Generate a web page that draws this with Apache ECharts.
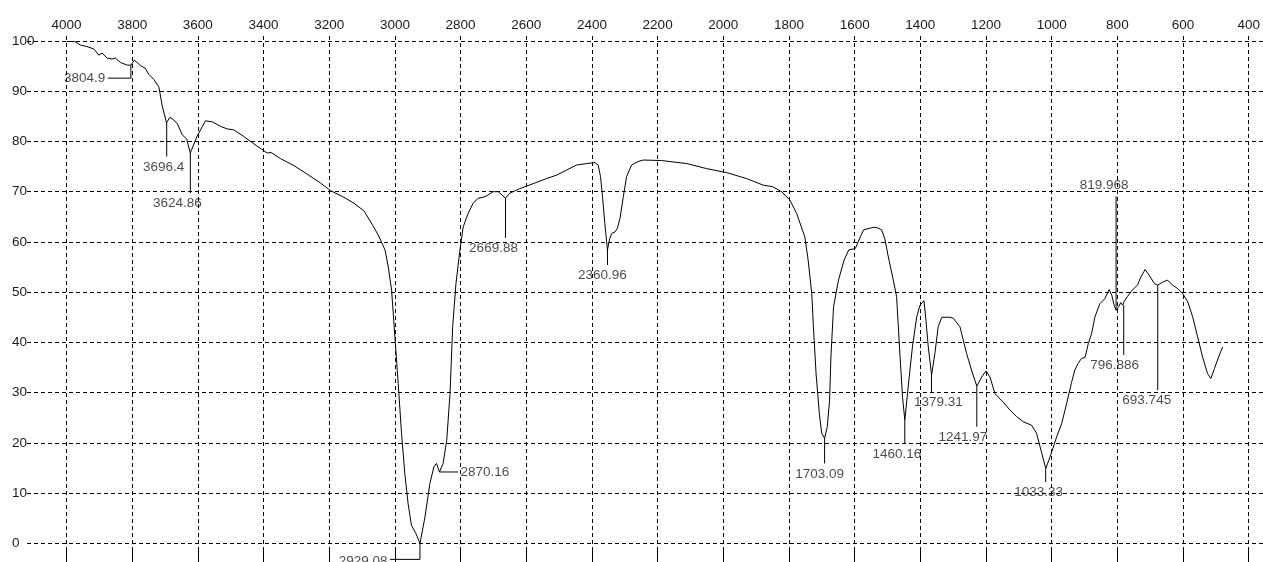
<!DOCTYPE html>
<html><head><meta charset="utf-8">
<script src="https://cdn.jsdelivr.net/npm/echarts@6/dist/echarts.min.js"></script>
<style>html,body{margin:0;padding:0;background:#fff}#c{width:1263px;height:562px}</style>
</head><body><div id="c"></div>
<script>
// ---- data ----
const wavenumbers = [4000,3975,3958,3938,3917,3902,3892,3877,3862,3852,3836,3816,3805,3794,3776,3762,3751,3736,3720,3710,3697,3687,3675,3664,3649,3636,3625,3604,3579,3558,3533,3513,3493,3463,3432,3392,3380,3352,3311,3271,3230,3200,3160,3129,3099,3074,3054,3035,3025,3015,3005,2995,2985,2975,2965,2955,2941,2929,2914,2899,2887,2879,2870,2859,2848,2838,2830,2820,2808,2798,2783,2768,2753,2732,2719,2707,2692,2670,2657,2627,2586,2546,2515,2485,2455,2424,2399,2389,2382,2376,2369,2364,2361,2354,2348,2338,2331,2323,2313,2303,2288,2268,2253,2197,2121,2061,2000,1939,1889,1861,1833,1808,1788,1763,1753,1742,1737,1729,1719,1712,1703,1695,1688,1684,1676,1661,1644,1630,1610,1595,1585,1556,1547,1530,1520,1510,1495,1485,1475,1467,1460,1450,1437,1424,1414,1402,1396,1389,1379,1369,1359,1348,1323,1313,1293,1273,1258,1242,1227,1214,1202,1187,1162,1141,1121,1101,1076,1061,1045,1033,1020,1000,985,971,955,945,935,925,914,904,894,884,869,854,841,833,826,820,812,806,800,796,786,771,755,745,732,720,704,694,679,664,649,633,618,603,588,573,558,543,533,522,507,497];
const transmittance = [99.9,99.9,99.2,98.9,98.4,97.2,97.6,96.6,96.4,96.6,95.7,95.2,95.2,96.2,95.1,94.6,93.4,92.4,90.8,87.1,83.7,84.8,84.3,83.5,81.3,80.5,77.7,81.1,84.1,83.9,83.0,82.5,82.3,81.0,79.5,77.7,77.8,76.6,75.2,73.5,71.7,70.2,68.9,67.7,66.2,63.5,61.2,58.4,55.0,50.4,41.1,31.8,21.9,13.9,7.9,3.6,1.9,0.0,5.2,11.9,15.2,15.9,14.2,15.9,20.5,29.8,43.1,51.7,58.4,63.0,65.7,67.7,68.7,69.0,69.5,70.0,70.0,68.7,69.7,70.6,71.6,72.6,73.3,74.3,75.3,75.6,75.8,75.3,73.0,69.0,63.7,60.4,58.4,60.7,61.7,62.0,62.7,64.7,69.0,73.0,75.3,76.0,76.3,76.2,75.6,74.6,73.8,72.6,71.3,71.0,70.0,68.3,65.7,61.0,56.4,49.7,43.1,33.8,25.8,21.9,20.9,23.2,28.5,37.1,47.1,52.4,56.4,58.4,58.7,61.0,62.4,62.9,62.9,62.4,60.4,57.0,52.4,49.1,37.8,29.1,24.5,31.1,39.1,45.1,47.4,48.3,44.4,39.1,33.5,37.8,43.1,45.0,45.0,44.8,43.1,37.8,34.5,31.3,33.1,34.3,33.1,29.8,28.1,26.5,25.2,24.2,23.5,21.9,17.9,14.9,17.2,21.2,23.8,27.5,32.0,34.5,35.8,36.8,37.0,39.8,41.8,45.1,47.7,48.7,50.5,49.4,47.4,46.4,47.1,47.9,47.4,48.1,49.1,50.4,51.4,53.0,54.5,53.4,51.7,51.4,52.0,52.4,51.4,50.7,49.7,48.1,45.1,41.1,37.1,33.8,32.8,34.8,37.5,39.1];
const xTickValues = [4000,3800,3600,3400,3200,3000,2800,2600,2400,2200,2000,1800,1600,1400,1200,1000,800,600,400];
const yTickValues = [0,10,20,30,40,50,60,70,80,90,100];
const peakWavenumbers = [3804.9,3696.4,3624.86,2929.08,2870.16,2669.88,2360.96,1703.09,1460.16,1379.31,1241.97,1033.33,819.968,796.886,693.745];
const peakLabels = ['3804.9','3696.4','3624.86','2929.08','2870.16','2669.88','2360.96','1703.09','1460.16','1379.31','1241.97','1033.33','819.968','796.886','693.745'];
const peakTransmittance = [95.2,83.7,77.7,0.0,14.2,68.7,58.4,20.9,24.5,33.5,31.3,14.9,46.4,47.4,51.4];
const leaderEndTransmittance = [92.6,77.0,69.7,-3.2,14.2,60.8,55.4,15.9,19.8,30.1,23.2,12.2,69.1,37.5,30.5];
const leaderElbowWavenumber = [3875,null,null,3020,2814,null,null,null,null,null,null,null,null,null,null];
const labelSide = ['left','bottom','bottom','left','right','bottom','bottom','bottom','bottom','bottom','bottom','bottom','top','bottom','bottom'];
// ---- layout only ----
const labelShiftPx = [0,-3,-13,0,0,-12,-5,-5,-8,7,-14,-7,-12,-9,-11];
const labelShiftYPx = [0,0,0,2,0,0,0,0,0,0,0,0,0,0,0];

const FONT = '"Liberation Sans", Arial, sans-serif';
const FS = 13.5;
const TXT = '#1a1a1a';
const dash = [4, 3];
const xMin = Math.min(...xTickValues), xMax = Math.max(...xTickValues);
const xStep = xTickValues[0] - xTickValues[1];
const yMin = Math.min(...yTickValues), yMax = Math.max(...yTickValues);
const yStep = yTickValues[1] - yTickValues[0];

const chart = echarts.init(document.getElementById('c'), null, {renderer: 'canvas'});

const series = [{
  type: 'line', xAxisIndex: 0, yAxisIndex: 0,
  data: wavenumbers.map((w, i) => [w, transmittance[i]]),
  symbol: 'none', smooth: false, silent: true,
  lineStyle: {color: '#000', width: 1}, z: 5
}];

peakWavenumbers.forEach((w, i) => {
  const pts = [[w, peakTransmittance[i]], [w, leaderEndTransmittance[i]]];
  if (leaderElbowWavenumber[i] !== null) pts.push([leaderElbowWavenumber[i], leaderEndTransmittance[i]]);
  series.push({
    type: 'line', xAxisIndex: 0, yAxisIndex: 0, data: pts, clip: false,
    symbol: 'none', silent: true, lineStyle: {color: '#000', width: 1}, z: 6
  });
});

series.push({
  type: 'scatter', xAxisIndex: 0, yAxisIndex: 0, clip: false, silent: true,
  symbolSize: 1, itemStyle: {color: 'rgba(0,0,0,0)'}, z: 7,
  data: peakWavenumbers.map((w, i) => ({
    name: peakLabels[i],
    value: [leaderElbowWavenumber[i] !== null ? leaderElbowWavenumber[i] : w, leaderEndTransmittance[i]],
    label: {
      show: true, position: labelSide[i], formatter: '{b}',
      offset: [labelShiftPx[i], labelShiftYPx[i]],
      distance: (labelSide[i] === 'left' || labelSide[i] === 'right') ? 2 : 3,
      color: TXT, fontSize: FS, fontFamily: FONT
    }
  }))
});

chart.setOption({
  animation: false,
  backgroundColor: '#fff',
  grid: [
    {left: 66.5, right: 8.3, top: 41, bottom: 18.7},
    {left: 27, right: 0, top: 41, bottom: 18.7},
    {left: 66.5, right: 8.3, top: 36, bottom: 0}
  ],
  xAxis: [
    {gridIndex: 0, type: 'value', min: xMin, max: xMax, inverse: true, show: false},
    {gridIndex: 1, type: 'value', min: 0, max: 1, show: false},
    {gridIndex: 2, type: 'value', min: xMin, max: xMax, interval: xStep, inverse: true, position: 'top',
     axisLine: {show: false},
     axisTick: {show: true, length: 15, lineStyle: {color: '#000', width: 1}},
     axisLabel: {show: true, showMinLabel: true, showMaxLabel: true, margin: 4, color: TXT, fontSize: FS, fontFamily: FONT,
                 formatter: v => String(v)},
     splitLine: {show: true, lineStyle: {color: '#000', width: 1, type: dash}}}
  ],
  yAxis: [
    {gridIndex: 0, type: 'value', min: yMin, max: yMax, show: false},
    {gridIndex: 1, type: 'value', min: yMin, max: yMax, interval: yStep,
     axisLine: {show: false}, axisTick: {show: false},
     axisLabel: {show: true, align: 'left', margin: 15, color: TXT, fontSize: FS, fontFamily: FONT,
                 formatter: v => String(v)},
     splitLine: {show: true, lineStyle: {color: '#000', width: 1, type: dash}}},
    {gridIndex: 2, type: 'value', min: 0, max: 1, show: false}
  ],
  series: series
});
</script>
</body></html>
